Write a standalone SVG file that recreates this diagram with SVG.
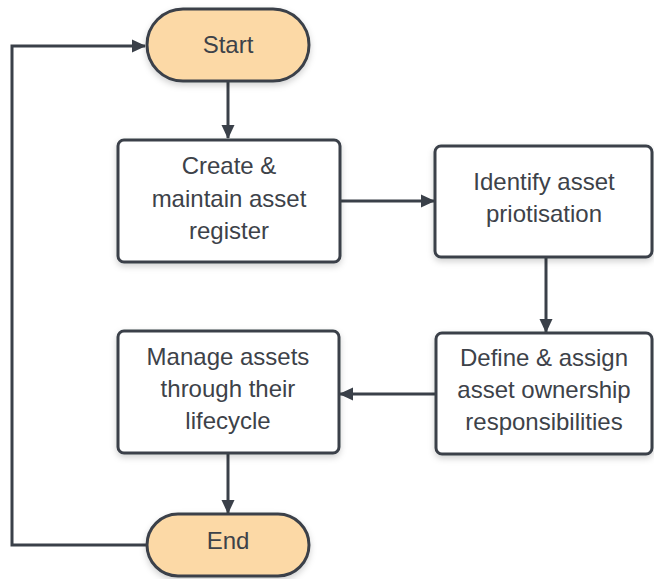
<svg xmlns="http://www.w3.org/2000/svg" width="654" height="579" viewBox="0 0 654 579">
  <defs>
    <filter id="shadow" x="-10%" y="-10%" width="125%" height="130%">
      <feDropShadow dx="0" dy="3" stdDeviation="3" flood-color="#000" flood-opacity="0.18"/>
    </filter>
    <marker id="arrow" viewBox="0 0 14 14" refX="13" refY="7" markerWidth="14" markerHeight="14" markerUnits="userSpaceOnUse" orient="auto">
      <path d="M0,0.5 L14,7 L0,13.5 Z" fill="#3a4049"/>
    </marker>
  </defs>
  <style>
    .box { fill: #ffffff; stroke: #3a4049; stroke-width: 3; filter: url(#shadow); }
    .term { fill: #fcd9a6; stroke: #3a4049; stroke-width: 3; filter: url(#shadow); }
    .lbl { font-family: "Liberation Sans", Arial, sans-serif; font-size: 24px; fill: #3d4249; text-anchor: middle; }
    .conn { fill: none; stroke: #3a4049; stroke-width: 3; marker-end: url(#arrow); }
  </style>

  <rect width="654" height="579" fill="#ffffff"/>

  <!-- connectors -->
  <g id="connectors">
    <path class="conn" d="M228,82 V138"/>
    <path class="conn" d="M340,201 H434"/>
    <path class="conn" d="M546,257 V332"/>
    <path class="conn" d="M435,394 H340"/>
    <path class="conn" d="M228,453 V513"/>
    <path class="conn" d="M147,545 H12 V46 H145"/>
  </g>

  <g id="start">
    <rect class="term" x="147" y="9" width="162" height="72" rx="36"/>
    <text class="lbl" x="228" y="53">Start</text>
  </g>

  <g id="create">
    <rect class="box" x="118" y="140" width="222" height="122" rx="6"/>
    <text class="lbl" x="229" y="174">Create &amp;</text>
    <text class="lbl" x="229" y="207">maintain asset</text>
    <text class="lbl" x="229" y="239">register</text>
  </g>

  <g id="identify">
    <rect class="box" x="435" y="146" width="217" height="111" rx="6"/>
    <text class="lbl" x="544" y="190">Identify asset</text>
    <text class="lbl" x="544" y="222">priotisation</text>
  </g>

  <g id="define">
    <rect class="box" x="436" y="333" width="216" height="121" rx="6"/>
    <text class="lbl" x="544" y="366">Define &amp; assign</text>
    <text class="lbl" x="544" y="398">asset ownership</text>
    <text class="lbl" x="544" y="430">responsibilities</text>
  </g>

  <g id="manage">
    <rect class="box" x="118" y="331" width="221" height="122" rx="6"/>
    <text class="lbl" x="228" y="365">Manage assets</text>
    <text class="lbl" x="228" y="397">through their</text>
    <text class="lbl" x="228" y="429">lifecycle</text>
  </g>

  <g id="end">
    <rect class="term" x="147" y="514" width="162" height="62" rx="31"/>
    <text class="lbl" x="228" y="549">End</text>
  </g>
</svg>
